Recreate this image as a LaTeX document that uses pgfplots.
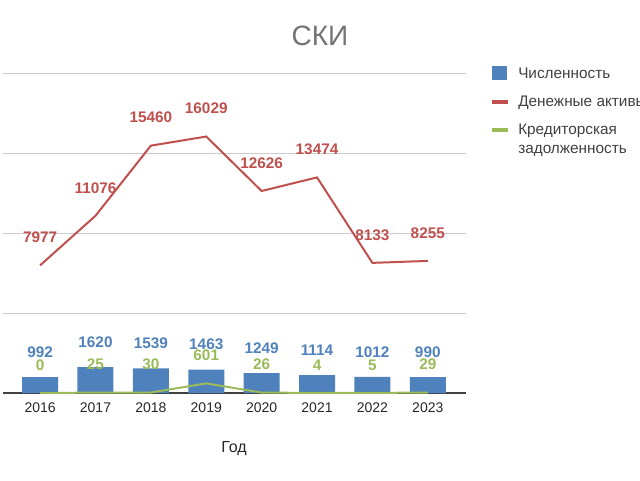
\documentclass[border=0pt]{standalone}
\usepackage{pgfplots}
\pgfplotsset{compat=1.18}
\usepackage{fontspec}
\setmainfont{Liberation Sans}
\definecolor{cblue}{HTML}{4F81BD}
\definecolor{cred}{HTML}{C0504D}
\definecolor{cgreen}{HTML}{9BBB59}
\begin{document}
\begin{tikzpicture}
\path[use as bounding box] (0,0) rectangle (480pt,360pt);
\begin{axis}[
 at={(2.25pt,65.25pt)}, anchor=south west,
 scale only axis, width=347.25pt, height=240pt,
 xmin=-0.67, xmax=7.69, ymin=0, ymax=20000,
 xtick={0,...,7}, xticklabels={2016,2017,2018,2019,2020,2021,2022,2023},
 ytick={5000,10000,15000,20000}, yticklabels={}, scaled y ticks=false,
 ymajorgrids, grid style={color=black!20, line width=0.75pt},
 major tick length=0,
 axis line style={draw=none},
 extra y ticks={0}, extra y tick labels={},
 extra y tick style={grid style={black!75, line width=1.1pt}},
 xticklabel style={font=\fontsize{10.5}{12}\selectfont, text=black!85, yshift=-4pt},
 clip=false,
 /pgf/number format/.cd, 1000 sep={}, assume math mode=true, /pgfplots/.cd,
 nodes near coords,
 nodes near coords style={font=\bfseries\fontsize{11.5}{13}\selectfont, anchor=center},
]
\addplot[ybar, bar width=27pt, fill=cblue, draw=none,
  every node near coord/.append style={yshift=18.75pt, text=cblue}]
  coordinates {(0,992)(1,1620)(2,1539)(3,1463)(4,1249)(5,1114)(6,1012)(7,990)};
\addplot[cred, line width=1.5pt, mark=none,
  every node near coord/.append style={yshift=21pt, text=cred}]
  coordinates {(0,7977)(1,11076)(2,15460)(3,16029)(4,12626)(5,13474)(6,8133)(7,8255)};
\addplot[cgreen, line width=1.5pt, mark=none,
  every node near coord/.append style={yshift=21pt, text=cgreen}]
  coordinates {(0,0)(1,25)(2,30)(3,601)(4,26)(5,4)(6,5)(7,29)};
\end{axis}
\node[anchor=base, text=black!55, font=\fontsize{21}{24}\selectfont] at (240pt,326.25pt) {СКИ};
\node[anchor=base, text=black!85, font=\fontsize{12}{14}\selectfont] at (175.5pt,21pt) {Год};
\fill[cblue] (369pt,300pt) rectangle (380.25pt,310.5pt);
\draw[cred, line width=3pt] (369pt,283.5pt) -- (381pt,283.5pt);
\draw[cgreen, line width=3pt] (369pt,262.5pt) -- (381pt,262.5pt);
\begin{scope}[every node/.style={anchor=base west, inner sep=0pt, text=black!75, font=\fontsize{11.5}{13}\selectfont}]
\node at (388.5pt,301.1pt) {Численность};
\node at (388.5pt,280.1pt) {Денежные активы};
\node at (388.5pt,259.1pt) {Кредиторская};
\node at (388.5pt,244.9pt) {задолженность};
\end{scope}
\end{tikzpicture}
\end{document}
